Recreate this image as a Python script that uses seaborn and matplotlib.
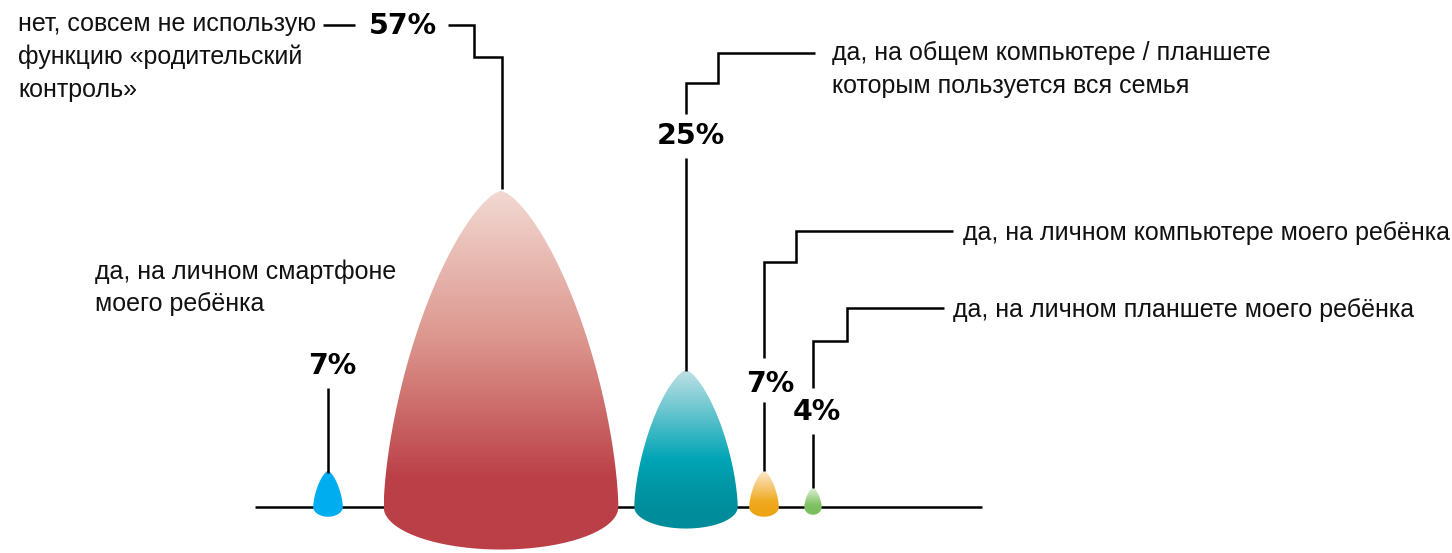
import numpy as np
import matplotlib
matplotlib.use("Agg")
import matplotlib.pyplot as plt
from matplotlib.path import Path
from matplotlib.patches import PathPatch
from matplotlib.colors import LinearSegmentedColormap
import seaborn as sns

# --- Data ---
categories = [
    "да, на личном смартфоне\nмоего ребёнка",
    "нет, совсем не использую\nфункцию «родительский\nконтроль»",
    "да, на общем компьютере / планшете\nкоторым пользуется вся семья",
    "да, на личном компьютере моего ребёнка",
    "да, на личном планшете моего ребёнка",
]
values = [7, 57, 25, 7, 4]
pct_labels = ["7%", "57%", "25%", "7%", "4%"]

# --- Layout (pixel space) ---
W, H = 1452, 553
baseline = 507
centers = [328, 501, 686, 764, 813]
h_per_pt, h_off = 5.6, -3
w_per_pt, w_off = 4.1, 1

stops = [
    [(0.0, "#00aeef"), (1.0, "#00aeef")],
    [(0.0, "#f2d8d2"), (0.45, "#dc968d"), (0.88, "#bb3f46"), (1.0, "#bb3f46")],
    [(0.0, "#bfe0e5"), (0.62, "#00a5b5"), (0.8, "#0097a6"), (1.0, "#008c9a")],
    [(0.0, "#fde8cc"), (0.78, "#f0aa20"), (1.0, "#eea515")],
    [(0.0, "#e2f2d8"), (0.8, "#80c264"), (1.0, "#7bbf5f")],
]

sns.set_theme(style="white")
plt.rcParams['font.family'] = ['Liberation Sans', 'DejaVu Sans']

fig = plt.figure(figsize=(W / 100, H / 100), dpi=100)
ax = fig.add_axes([0, 0, 1, 1])
lw = 1.8

# baseline
ax.plot([255, 982], [baseline, baseline], color="black", lw=lw, zorder=1,
        solid_capstyle="butt")

# --- Drop shapes ---
for cx, v, st in zip(centers, values, stops):
    h = h_per_pt * v + h_off
    half = (w_per_pt * v + w_off) / 2
    depth = 0.16 * half * 2 + 5
    top = baseline - h
    t = np.linspace(0, 1, 120)
    prof = (1 - (1 - t) ** 1.6) ** 0.68 * half
    ys = top + t * h
    ang = np.linspace(0, np.pi, 80)
    bx = cx + half * np.cos(ang)
    by = baseline + depth * np.sin(ang)
    xs = np.concatenate([cx - prof, bx[::-1][1:], (cx + prof)[::-1][1:]])
    yy = np.concatenate([ys, by[::-1][1:], ys[::-1][1:]])
    verts = np.column_stack([xs, yy])
    patch = PathPatch(Path(verts), facecolor="none", edgecolor="none")
    ax.add_patch(patch)
    cmap = LinearSegmentedColormap.from_list("g", st)
    ybot = baseline + depth
    frac = np.linspace(0, 1, 256)
    # normalise gradient so stop 1.0 lands near the baseline
    grad = cmap(np.clip(frac * (ybot - top) / (baseline - top + depth * 0.3), 0, 1))
    img = ax.imshow(grad[:, None, :], extent=(cx - half, cx + half, ybot, top),
                    origin="upper", aspect="auto", zorder=2, interpolation="bilinear")
    img.set_clip_path(patch)

# --- Leader lines ---
leaders = [
    [(323, 25), (355, 25)],
    [(448, 25), (474, 25), (474, 57), (502, 57), (502, 189)],
    [(686, 158), (686, 371)],
    [(686, 114), (686, 83), (718, 83), (718, 53), (815, 53)],
    [(328, 388), (328, 473)],
    [(764, 402), (764, 471)],
    [(764, 358), (764, 262), (796, 262), (796, 231), (953, 231)],
    [(813, 434), (813, 488)],
    [(813, 388), (813, 341), (847, 341), (847, 308), (944, 308)],
]
for seg in leaders:
    sx, sy = zip(*seg)
    ax.plot(sx, sy, color="black", lw=lw, zorder=3, solid_joinstyle="miter",
            solid_capstyle="butt")

# --- Percent labels ---
pct_pos = [(332, 366), (403, 26), (691, 136), (770, 384), (817, 412)]
for (px, py), lab in zip(pct_pos, pct_labels):
    ax.text(px, py, lab, ha="center", va="center", fontsize=20.5,
            fontweight="heavy", family=["DejaVu Sans"], color="black", zorder=4)

# --- Category labels ---
label_pos = [(95, 272), (18, 24), (832, 53), (963, 233), (953, 310)]
line_gap = [32, 33, 33, 33, 33]
for (lx, ly), gap, lab in zip(label_pos, line_gap, categories):
    for i, line in enumerate(lab.split("\n")):
        ax.text(lx, ly + i * gap, line, ha="left", va="center", fontsize=18,
                color="#111111", zorder=4)

ax.set_xlim(0, W)
ax.set_ylim(H, 0)
ax.set_aspect("auto")
ax.axis("off")
fig.savefig("out.png", dpi=100, facecolor="white")
